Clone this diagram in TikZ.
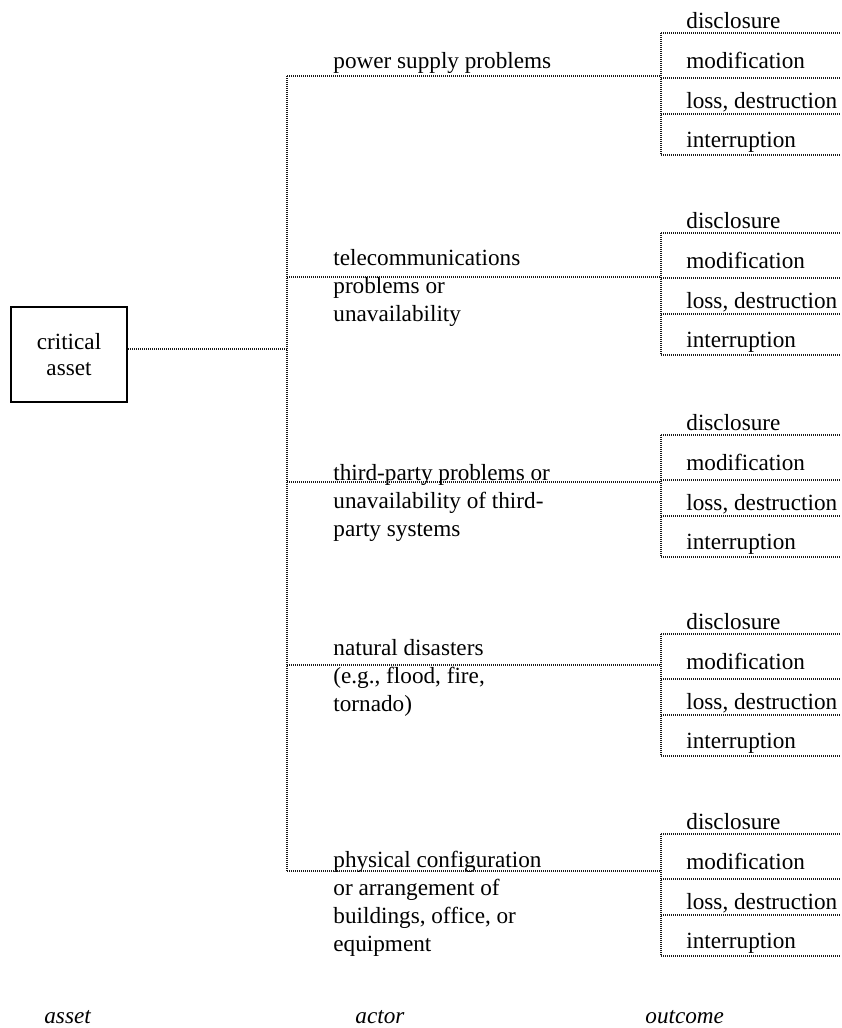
\documentclass[tikz,border=0pt]{standalone}
\usepackage{fontspec}
\setmainfont{Liberation Serif}
\begin{document}
\begin{tikzpicture}[x=0.5pt,y=-0.5pt]
		\tikzstyle{pointille}=[line width=0.6pt,dash pattern=on 0.5pt off 0.5pt,black!90]
		\tikzstyle{texte}=[inner sep=0pt,anchor=base west,align=left,font=\fontsize{11.6}{14}\selectfont]
		\tikzstyle{acteur}=[texte,anchor=north west]
		\tikzstyle{legende}=[texte,font=\fontsize{11.6}{14}\selectfont\itshape]
		\tikzstyle{boite}=[draw,line width=1pt,minimum width=58pt,minimum height=47.5pt,align=center,font=\fontsize{11.6}{13}\selectfont]
		\def\Epine{287}
		\def\Branche{661}
		\def\Bord{841}
		\def\Marge{333}
		\def\Jambage{16}
		\useasboundingbox (0,0) rectangle (841,1028);
		\node[boite] (asset) at (69,354.5) {critical\\asset};
		\coordinate (J) at (\Epine,349) ;
		\node[acteur] (a1) at (\Marge,68-\Jambage) {power supply problems};
		\node[acteur] (a2) at (\Marge,265-\Jambage) {telecommunications\\problems or\\unavailability};
		\node[acteur] (a3) at (\Marge,480-\Jambage) {third-party problems or\\unavailability of third-\\party systems};
		\node[acteur] (a4) at (\Marge,655-\Jambage) {natural disasters\\(e.g., flood, fire,\\tornado)};
		\node[acteur] (a5) at (\Marge,867-\Jambage) {physical configuration\\or arrangement of\\buildings, office, or\\equipment};
		\coordinate (e1) at (\Epine,76) ; \coordinate (b1) at (\Branche,76) ;
		\coordinate (e2) at (\Epine,277) ; \coordinate (b2) at (\Branche,277) ;
		\coordinate (e3) at (\Epine,482) ; \coordinate (b3) at (\Branche,482) ;
		\coordinate (e4) at (\Epine,665) ; \coordinate (b4) at (\Branche,665) ;
		\coordinate (e5) at (\Epine,871) ; \coordinate (b5) at (\Branche,871) ;
		\draw[pointille] (J -| asset.east)--(J);
		\draw[pointille] (e1)--(e5);
		\foreach \i in {1,...,5} \draw[pointille] (e\i)--(b\i);
		% issues
		\foreach \T [count=\g] in {33,233,435,634,834} {
			\coordinate (h\g) at (\Branche,\T) ;
			\coordinate (k\g) at (\Branche,\T+122) ;
			\draw[pointille] (h\g)--(k\g);
			\foreach \d/\b/\issue in {0/-5/disclosure,45/35/modification,81/75/{loss, destruction},122/114/interruption} {
				\draw[pointille] ([yshift=-\d*0.5pt]h\g)--([yshift=-\d*0.5pt]h\g -| \Bord,0);
				\node[texte] (o\g-\d) at (686,\T+\b) {\issue};
			}
		}
		\node[legende] (l1) at (44,1023) {asset};
		\node[legende] (l2) at (355,1023) {actor};
		\node[legende] (l3) at (645,1023) {outcome};
	\end{tikzpicture}
\end{document}
